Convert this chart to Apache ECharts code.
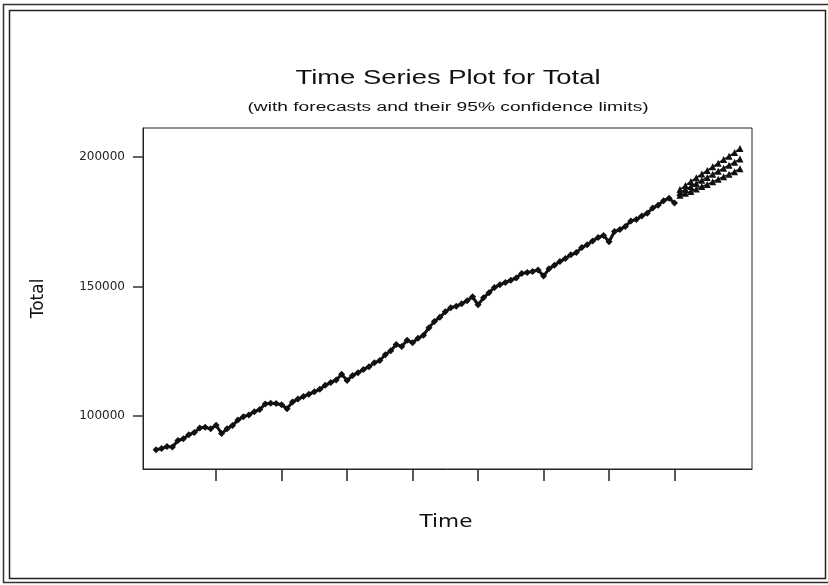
<!DOCTYPE html>
<html>
<head>
<meta charset="utf-8">
<script src="https://cdn.jsdelivr.net/npm/echarts@6/dist/echarts.min.js"></script>
<style>
html,body{margin:0;padding:0;background:#fff;}
#c{width:828px;height:585px;}
</style>
</head>
<body>
<div id="c"></div>
<script>
// Observed series (index 1..96)
const obsIndex = [];
for (let i = 1; i <= 96; i++) obsIndex.push(i);
const totalValues = [
 86900, 87400, 88200, 88000, 90500, 91200, 92700, 93600, 95300, 95600, 95000, 96400,
 93200, 95000, 96300, 98400, 99700, 100400, 101600, 102500, 104600, 104900, 104800, 104300,
 102800, 105400, 106500, 107500, 108400, 109300, 110300, 111800, 112900, 113900, 116100, 113700,
 115600, 116700, 117900, 119000, 120500, 121400, 123600, 125200, 127600, 126800, 129200, 128300,
 130000, 131200, 134100, 136500, 138100, 140200, 141800, 142400, 143300, 144500, 146000, 142900,
 145600, 147600, 149600, 150700, 151500, 152400, 153300, 155000, 155400, 155800, 156400, 154000,
 156800, 158200, 159600, 160800, 162200, 163100, 165000, 166100, 167600, 168900, 169700, 167300,
 171200, 172000, 173200, 175300, 175900, 177200, 178300, 180300, 181400, 183100, 184100, 182200
];
// Forecast horizon (index 97..108)
const fcIndex = [97, 98, 99, 100, 101, 102, 103, 104, 105, 106, 107, 108];
const forecast = [186300, 187500, 188600, 189800, 191000, 192100, 193300, 194500, 195700, 196800, 198000, 199200];
const upper95  = [187400, 189000, 190500, 192000, 193400, 194800, 196200, 197600, 199000, 200300, 201700, 203300];
const lower95  = [185200, 186000, 186700, 187600, 188600, 189400, 190400, 191400, 192400, 193300, 194300, 195500];
// Axis ticks
const xTicks = [12, 24, 36, 48, 60, 72, 84, 96];
const yTicks = [100000, 150000, 200000];
const titleText = 'Time Series Plot for Total';
const subtitleText = '(with forecasts and their 95% confidence limits)';
const xName = 'Time';
const yName = 'Total';

const zip = (xs, ys) => xs.map((x, i) => [x, ys[i]]);

const chart = echarts.init(document.getElementById('c'), null, {renderer: 'canvas'});
const ink = '#111';
chart.setOption({
  animation: false,
  backgroundColor: '#fff',
  grid: {left: 143, right: 76, top: 128, bottom: 116, show: true, borderColor: '#222', borderWidth: 1, backgroundColor: '#fff'},
  xAxis: {
    type: 'value', min: -1.4, max: 110.2,
    axisLine: {show: true, onZero: false, lineStyle: {color: '#222', width: 1}},
    axisTick: {show: true, inside: false, length: 12, lineStyle: {color: '#222', width: 1.5}, customValues: xTicks},
    axisLabel: {show: false, customValues: xTicks},
    splitLine: {show: false}
  },
  yAxis: {
    type: 'value', min: 79500, max: 211200,
    name: yName, nameLocation: 'middle', nameGap: 96, nameRotate: 90,
    nameTextStyle: {fontFamily: 'DejaVu Sans', fontSize: 17, color: '#111'},
    axisLine: {show: true, onZero: false, lineStyle: {color: '#222', width: 1}},
    axisTick: {show: true, inside: false, length: 10, lineStyle: {color: '#333', width: 1.5}, customValues: yTicks},
    axisLabel: {show: true, margin: 18, fontFamily: 'DejaVu Sans', fontSize: 12, color: '#222',
      customValues: yTicks, formatter: v => String(v)},
    splitLine: {show: false}
  },
  series: [
    {type: 'line', name: 'Total', data: zip(obsIndex, totalValues), symbol: 'diamond', symbolSize: 7,
     lineStyle: {color: ink, width: 3}, itemStyle: {color: ink}, z: 3},
    {type: 'line', name: 'Upper', data: zip(fcIndex, upper95), symbol: 'triangle', symbolSize: 7,
     lineStyle: {color: ink, width: 1.5}, itemStyle: {color: ink}},
    {type: 'line', name: 'Forecast', data: zip(fcIndex, forecast), symbol: 'triangle', symbolSize: 7,
     lineStyle: {color: ink, width: 1.5}, itemStyle: {color: ink}},
    {type: 'line', name: 'Lower', data: zip(fcIndex, lower95), symbol: 'triangle', symbolSize: 7,
     lineStyle: {color: ink, width: 1.5}, itemStyle: {color: ink}}
  ],
  graphic: [
    {type: 'rect', silent: true, shape: {x: 3.5, y: 4.5, width: 830, height: 578}, style: {fill: null, stroke: '#333', lineWidth: 1.5}},
    {type: 'rect', silent: true, shape: {x: 9.5, y: 10.5, width: 816, height: 568}, style: {fill: null, stroke: '#222', lineWidth: 1.5}},
    {type: 'text', silent: true, x: 448, y: 78, scaleX: 1.37,
     style: {text: titleText, fontFamily: 'Liberation Sans', fontSize: 20, fill: '#111', textAlign: 'center', textVerticalAlign: 'middle'}},
    {type: 'text', silent: true, x: 448, y: 108, scaleX: 1.6,
     style: {text: subtitleText, fontFamily: 'Liberation Sans', fontSize: 12, fill: '#111', textAlign: 'center', textVerticalAlign: 'middle'}},
    {type: 'text', silent: true, x: 446, y: 522, scaleX: 1.2,
     style: {text: xName, fontFamily: 'DejaVu Sans', fontSize: 18, fill: '#111', textAlign: 'center', textVerticalAlign: 'middle'}}
  ]
});
</script>
</body>
</html>
